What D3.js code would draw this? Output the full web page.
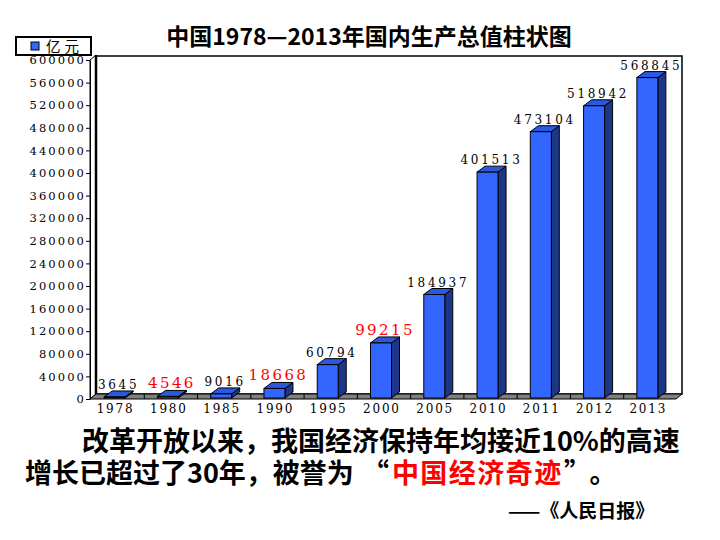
<!DOCTYPE html>
<html>
<head>
<meta charset="utf-8">
<script src="https://cdn.jsdelivr.net/npm/d3@7"></script>
<style>
  body { margin: 0; background: #fff; }
  svg { display: block; }
</style>
</head>
<body>
<div id="chart"></div>
<script>
// data
const years = ['1978', '1980', '1985', '1990', '1995', '2000', '2005', '2010', '2011', '2012', '2013'];
const gdp = [3645, 4546, 9016, 18668, 60794, 99215, 184937, 401513, 473104, 518942, 568845];
const redYears = ['1980', '1990', '2000'];   // labels printed in red
const yTicks = [0, 40000, 80000, 120000, 160000, 200000, 240000, 280000, 320000,
                360000, 400000, 440000, 480000, 520000, 560000, 600000];
const title = '中国1978—2013年国内生产总值柱状图';
const legendLabel = '亿元';
const line1 = '改革开放以来，我国经济保持年均接近10%的高速';
const line2a = '增长已超过了30年，被誉为';
const line2b = '中国经济奇迹';
const source = '——《人民日报》';

const width = 720, height = 540;
const depth = { dx: 6, dy: -5 };      // wall / floor depth
const barDepth = { dx: 8, dy: -6 };
const barW = 21;
const serif = '"DejaVu Serif", serif';
const cjk = '"Noto Sans CJK SC", sans-serif';

const svg = d3.select('#chart').append('svg')
    .attr('width', width)
    .attr('height', height);

const x = d3.scaleBand()
    .domain(years)
    .range([88, 674])
    .padding(0);

const y = d3.scaleLinear()
    .domain([0, 600000])
    .range([399, 60]);

const left = 90, right = 676, base = y(0);

// back wall
svg.append('rect')
    .attr('x', left + depth.dx)
    .attr('y', y(600000) + depth.dy + 1)
    .attr('width', right - left)
    .attr('height', base - y(600000) - 1)
    .attr('fill', '#fff')
    .attr('stroke', '#000')
    .attr('stroke-width', 1.5);

// left wall
svg.append('polygon')
    .attr('points', [
        [left, base], [left, y(600000)],
        [left + depth.dx, y(600000) + depth.dy], [left + depth.dx, base + depth.dy]
    ].join(' '))
    .attr('fill', '#fff')
    .attr('stroke', '#000')
    .attr('stroke-width', 1);
svg.append('line')
    .attr('x1', left + depth.dx).attr('x2', left + depth.dx)
    .attr('y1', y(600000) + depth.dy).attr('y2', base + depth.dy)
    .attr('stroke', '#000').attr('stroke-width', 2.5);

// floor
svg.append('polygon')
    .attr('points', [
        [left, base], [right, base],
        [right + depth.dx, base + depth.dy], [left + depth.dx, base + depth.dy]
    ].join(' '))
    .attr('fill', '#808080')
    .attr('stroke', '#000')
    .attr('stroke-width', 1);

// floor ticks at band edges
svg.append('g')
    .selectAll('line')
    .data(years.slice(1))
    .join('line')
    .attr('x1', d => x(d) + 3).attr('x2', d => x(d) + 3)
    .attr('y1', base).attr('y2', base + depth.dy)
    .attr('stroke', '#000')
    .attr('stroke-width', 1);

// y axis
const yAxis = svg.append('g')
    .attr('transform', `translate(${left},0)`)
    .call(d3.axisLeft(y).tickValues(yTicks).tickSize(4).tickSizeOuter(0).tickFormat(d3.format('d')));
yAxis.select('.domain').attr('stroke', '#000');
yAxis.selectAll('.tick line').attr('stroke', '#000');
yAxis.selectAll('text')
    .attr('font-family', serif)
    .attr('font-size', 11.5)
    .attr('letter-spacing', 2.1)
    .attr('fill', '#000')
    .attr('x', -4);

// x axis
const xAxis = svg.append('g')
    .attr('transform', `translate(0,${base})`)
    .call(d3.axisBottom(x).tickSize(0).tickPadding(5));
xAxis.select('.domain').remove();
xAxis.selectAll('text')
    .attr('font-family', serif)
    .attr('font-size', 12)
    .attr('letter-spacing', 1.8)
    .attr('dx', 0.9)
    .attr('fill', '#000');

// bars
const bars = svg.append('g')
    .selectAll('g')
    .data(years.map((d, i) => ({ year: d, value: gdp[i] })))
    .join('g');

const xl = d => x(d.year) + x.bandwidth() / 2 - barW / 2;
const xr = d => xl(d) + barW;
const bottom = base - 1;

bars.append('polygon')   // side
    .attr('points', d => [
        [xr(d), y(d.value)], [xr(d) + barDepth.dx, y(d.value) + barDepth.dy],
        [xr(d) + barDepth.dx, bottom + barDepth.dy], [xr(d), bottom]
    ].join(' '))
    .attr('fill', '#1d3687')
    .attr('stroke', '#000')
    .attr('stroke-width', 1);

bars.append('polygon')   // top
    .attr('points', d => [
        [xl(d), y(d.value)], [xl(d) + barDepth.dx, y(d.value) + barDepth.dy],
        [xr(d) + barDepth.dx, y(d.value) + barDepth.dy], [xr(d), y(d.value)]
    ].join(' '))
    .attr('fill', '#2b58dc')
    .attr('stroke', '#000')
    .attr('stroke-width', 1);

bars.append('rect')      // front
    .attr('x', xl)
    .attr('y', d => y(d.value))
    .attr('width', barW)
    .attr('height', d => bottom - y(d.value))
    .attr('fill', '#3366ff')
    .attr('stroke', '#000')
    .attr('stroke-width', 1);

// value labels
bars.append('text')
    .attr('x', d => x(d.year) + x.bandwidth() / 2 + 4)
    .attr('y', d => Math.min(y(d.value) - 8, 392))
    .attr('text-anchor', 'middle')
    .attr('font-family', serif)
    .attr('font-size', d => redYears.includes(d.year) ? 15 : 12)
    .attr('letter-spacing', d => redYears.includes(d.year) ? 2.4 : 2.7)
    .attr('fill', d => redYears.includes(d.year) ? '#ff0000' : '#000')
    .text(d => d.value);

// title
svg.append('text')
    .attr('x', 369)
    .attr('y', 45)
    .attr('text-anchor', 'middle')
    .attr('font-family', cjk)
    .attr('font-weight', 'bold')
    .attr('font-size', 23)
    .text(title);

// legend
const legend = svg.append('g');
legend.append('rect')
    .attr('x', 16).attr('y', 37)
    .attr('width', 75).attr('height', 18)
    .attr('fill', '#fff')
    .attr('stroke', '#000')
    .attr('stroke-width', 2);
legend.append('rect')
    .attr('x', 31).attr('y', 42)
    .attr('width', 8).attr('height', 8)
    .attr('fill', '#3366ff')
    .attr('stroke', '#000')
    .attr('stroke-width', 1);
legend.append('text')
    .attr('x', 46).attr('y', 51.5)
    .attr('font-family', cjk)
    .attr('font-size', 14.5)
    .attr('letter-spacing', 4)
    .text(legendLabel);

// caption below the chart
const cap = svg.append('g')
    .attr('font-family', cjk)
    .attr('font-weight', 'bold')
    .attr('fill', '#000');
cap.append('text')
    .attr('x', 82).attr('y', 451)
    .attr('font-size', 27)
    .text(line1);
const t2 = cap.append('text')
    .attr('x', 25).attr('y', 483)
    .attr('font-size', 27);
t2.append('tspan').text(line2a);
t2.append('tspan').attr('dx', 8).text('“');
t2.append('tspan').attr('dx', 3).attr('fill', '#ff0000').attr('letter-spacing', 1.5).text(line2b);
t2.append('tspan').attr('dx', 1).text('”');
t2.append('tspan').attr('dx', 12).text('。');
cap.append('text')
    .attr('x', 508).attr('y', 518)
    .attr('font-size', 19)
    .text(source);
</script>
</body>
</html>
